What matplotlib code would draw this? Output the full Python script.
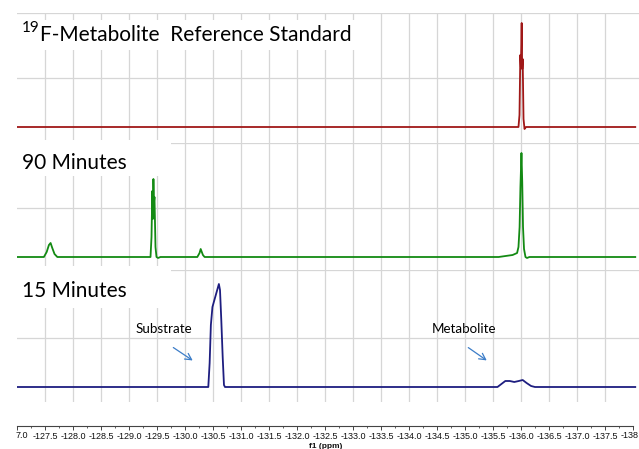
import matplotlib
matplotlib.use('Agg')
import matplotlib.pyplot as plt
from matplotlib.patches import Rectangle, FancyArrowPatch
from matplotlib.ticker import MultipleLocator, FuncFormatter

W, H = 639, 449

# ---- data (ppm, relative intensity) ----
ref_ppm = [-127.0, -135.955, -135.973, -135.988, -135.998, -136.012, -136.021,
           -136.030, -136.045, -136.063, -136.089, -138.04]
ref_int = [0, 0, 12, 72, 60, 104, 58, 68, 8, -2, 0, 0]

min90_ppm = [-127.0, -127.48, -127.53, -127.57, -127.60, -127.63, -127.67, -127.72,
             -129.384, -129.402, -129.416, -129.425, -129.436, -129.446, -129.455,
             -129.473, -129.491, -129.52, -129.56,
             -130.22, -130.26, -130.28, -130.30, -130.32, -130.35,
             -135.6, -135.85, -135.93, -135.955, -135.975, -135.990, -136.008,
             -136.022, -136.036, -136.054, -136.080, -136.107, -136.15, -138.04]
min90_int = [0, 0, 5, 12, 14, 9, 3, 0,
             0, 20, 66, 38, 78, 55, 60, 10, 0, -1, 0,
             0, 4, 8, 5, 2, 0,
             0, 2, 4, 10, 30, 70, 104, 75, 30, 8, 0, -1, 0, 0]

min15_ppm = [-127.0, -130.416, -130.440, -130.462, -130.490, -130.530, -130.575,
             -130.605, -130.625, -130.648, -130.673, -130.696, -130.714,
             -135.58, -135.65, -135.72, -135.80, -135.88, -135.96, -136.03,
             -136.10, -136.18, -136.25, -138.04]
min15_int = [0, 0, 24, 62, 80, 88, 97, 103, 97, 67, 30, 2, 0,
             0, 3, 6, 6, 5, 6, 7, 4, 1, 0, 0]

titles = ["F-Metabolite  Reference Standard", "90 Minutes", "15 Minutes"]
colors = ["#A01818", "#138A13", "#1E1E80"]

FONT = ['Lato', 'DejaVu Sans']
TICKFONT = ['Liberation Sans Narrow', 'Liberation Sans', 'DejaVu Sans']

fig = plt.figure(figsize=(W / 100, H / 100), dpi=100)
fig.patch.set_facecolor('white')

XL, XR = 17, 639
xlim = (-127.0, -127.0 - (XR - XL) / 56.0)


def fx(px):
    return px / W


def fy(py):
    return 1 - py / H


panels = [  # top px, bottom px, ymin, ymax
    (13, 143, -16, 114),
    (143, 270, -13, 114),
    (270, 402, -15, 117),
]
series = [(ref_ppm, ref_int), (min90_ppm, min90_int), (min15_ppm, min15_int)]

for (top, bot, y0, y1), (xs, ys), c in zip(panels, series, colors):
    ax = fig.add_axes([fx(XL), fy(bot), fx(XR - XL), (bot - top) / H])
    ax.set_xlim(*xlim)
    ax.set_ylim(y0, y1)
    ax.set_xticks([-127.5 - 0.5 * i for i in range(21)])
    ax.set_yticks([49, y1])
    ax.grid(True, color='#d6d6d6', linewidth=0.9)
    ax.tick_params(left=False, bottom=False, labelleft=False, labelbottom=False)
    for s in ax.spines.values():
        s.set_visible(False)
    ax.set_facecolor('none')
    ax.plot(xs, ys, color=c, linewidth=1.3, solid_joinstyle='round')

# white boxes behind labels
for (x0, y0b, x1, y1b) in [(14, 20, 355, 50), (0, 140, 171, 176), (0, 266, 171, 308)]:
    fig.patches.append(Rectangle((fx(x0), fy(y1b)), fx(x1 - x0), (y1b - y0b) / H,
                                 transform=fig.transFigure, facecolor='white',
                                 edgecolor='none', zorder=1))

# panel labels
t19 = fig.text(fx(22), fy(27.5), "19", fontsize=11, family=FONT, va='center', ha='left', zorder=4)
fig.canvas.draw()
bb = t19.get_window_extent()
fig.text((bb.x1 + 0.5) / W, fy(35), titles[0], fontsize=15, family=FONT,
         va='center', ha='left', zorder=4)
fig.text(fx(22), fy(163), titles[1], fontsize=15, family=FONT, va='center', ha='left', zorder=4)
fig.text(fx(22), fy(291), titles[2], fontsize=15, family=FONT, va='center', ha='left', zorder=4)

# annotations
fig.text(fx(136), fy(329), "Substrate", fontsize=9.6, family=FONT, va='center', ha='left', zorder=4)
fig.text(fx(432), fy(329), "Metabolite", fontsize=9.6, family=FONT, va='center', ha='left', zorder=4)
for (a, b) in [((171, 346), (195, 362)), ((466, 346), (489, 362))]:
    fig.patches.append(FancyArrowPatch((fx(a[0]), fy(a[1])), (fx(b[0]), fy(b[1])),
                                       transform=fig.transFigure, arrowstyle='->,head_length=4.5,head_width=2.4',
                                       color='#3C7DC8', linewidth=0.9, zorder=4))

# bottom ppm axis
axx = fig.add_axes([fx(XL), fy(426), fx(XR - XL), 0.0001])
axx.set_xlim(*xlim)
axx.set_yticks([])
for k in ['top', 'left', 'right']:
    axx.spines[k].set_visible(False)
axx.spines['bottom'].set_bounds(-127.0, -138.0)
axx.spines['bottom'].set_color('#444444')
axx.spines['bottom'].set_linewidth(0.8)
tick_vals = [-127.0 - 0.5 * i for i in range(23)]
axx.set_xticks(tick_vals)
axx.xaxis.set_minor_locator(MultipleLocator(0.25))
axx.tick_params(axis='x', which='major', length=3, width=0.7, color='#444444', pad=1.5,
                labelsize=6.5, labelcolor='#111111')
axx.tick_params(axis='x', which='minor', length=1.5, width=0.6, color='#444444')
axx.xaxis.set_major_formatter(FuncFormatter(
    lambda v, p: "" if (abs(v + 127) < 1e-6 or abs(v + 138) < 1e-6) else "%.1f" % v))
for lab in axx.get_xticklabels():
    lab.set_family(TICKFONT)
axx.set_facecolor('none')
# edge labels, cut as in the reference
fig.text(fx(16), fy(436), "7.0", fontsize=6.5, family=TICKFONT, ha='left', va='center', color='#111111')
fig.text(fx(638.5), fy(436), "-138", fontsize=6.5, family=TICKFONT, ha='right', va='center', color='#111111')
fig.text(fx(326), fy(446), "f1 (ppm)", fontsize=6, family=TICKFONT, ha='center', va='center',
         color='#111111', fontweight='bold')

fig.savefig('out.png', dpi=100, facecolor='white')
